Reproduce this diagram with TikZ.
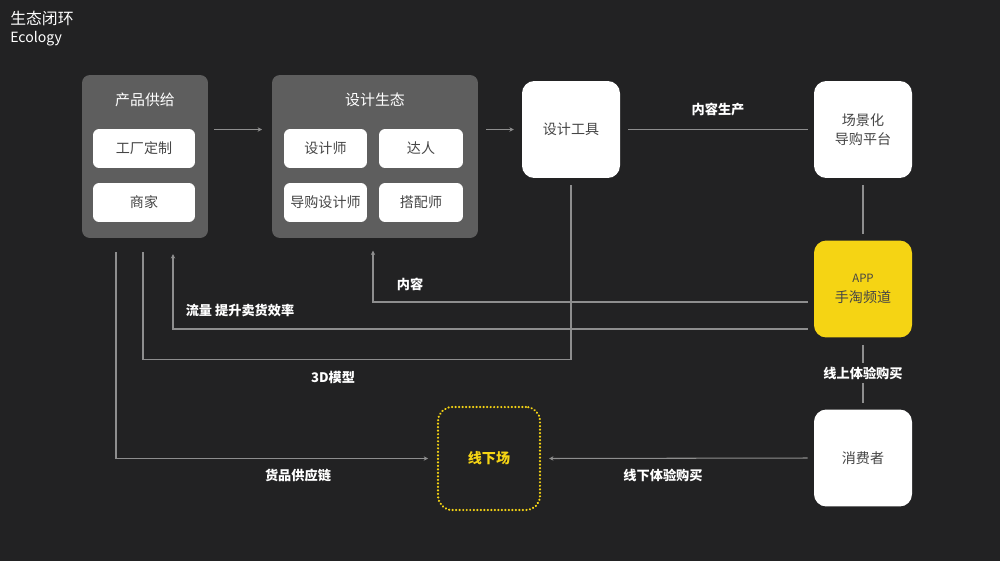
\documentclass[tikz,border=0pt]{standalone}
\usepackage{fontspec}
\setmainfont{Noto Sans CJK SC}
\usetikzlibrary{arrows.meta,calc}
\definecolor{bgc}{HTML}{222223}
\definecolor{grp}{HTML}{5E5E5E}
\definecolor{wire}{HTML}{8E8E8E}
\definecolor{ink}{HTML}{454545}
\definecolor{amber}{HTML}{F5D414}
\begin{document}
\begin{tikzpicture}[x=0.02cm, y=-0.02cm,
   group/.style={fill=grp, rounded corners=4.5pt, inner sep=0pt},
   card/.style={fill=white, rounded corners=3.5pt, text=ink, inner sep=0pt,
      minimum height=0.78cm, font=\fontsize{8}{9}\selectfont},
   big/.style={fill=white, rounded corners=7pt, text=ink, inner sep=0pt,
      minimum width=1.96cm, minimum height=1.94cm, align=center,
      font=\fontsize{8}{11}\selectfont},
   head/.style={text=white, font=\fontsize{8.5}{10}\selectfont},
   lbl/.style={text=white, font=\bfseries\fontsize{7.5}{9}\selectfont},
   wire/.style={draw=wire, line width=0.6pt},
   arw/.style={wire, -{Stealth[length=2.5pt,width=2.5pt]}}]

\useasboundingbox[fill=bgc] (0,0) rectangle (1000,561);

% title
\node[anchor=west, text=white, font=\fontsize{9}{10}\selectfont, inner sep=0pt] (title) at (10,18) {生态闭环};
\node[anchor=west, text=white, font=\fontsize{8}{10}\selectfont, inner sep=0pt] (subtitle) at (10,39) {Ecology};

% supply side
\node[group, minimum width=2.52cm, minimum height=3.26cm] (grpA) at (145,156.5) {};
\node[head] (grpAtitle) at (145,100) {产品供给};
\node[card, minimum width=2.04cm] (factory) at (144,148.5) {工厂定制};
\node[card, minimum width=2.04cm] (merchant) at (144,202.5) {商家};

% design ecology
\node[group, minimum width=4.12cm, minimum height=3.26cm] (grpB) at (375,156.5) {};
\node[head] (grpBtitle) at (375,100) {设计生态};
\node[card, minimum width=1.66cm] (designer) at (325.5,148.5) {设计师};
\node[card, minimum width=1.68cm] (talent) at (421,148.5) {达人};
\node[card, minimum width=1.66cm] (guide) at (325.5,202.5) {导购设计师};
\node[card, minimum width=1.68cm] (stylist) at (421,202.5) {搭配师};

\node[big] (tool) at (571,129.5) {设计工具};
\node[big] (scene) at (863,129.5) {场景化\\导购平台};
\node[big, fill=amber] (app) at (863,289) {{\fontsize{6.5}{8}\selectfont APP}\\手淘频道};
\node[big] (consumer) at (863,458) {消费者};
\node[draw=amber, line width=1.3pt, dash pattern=on 0.1pt off 1.9pt, line cap=round,
   rounded corners=8pt, minimum width=2.04cm, minimum height=2.06cm,
   text=amber, font=\bfseries\fontsize{8}{9}\selectfont] (offline) at (489,458.5) {线下场};

% connectors
\draw[arw, shorten <=3.5pt, shorten >=5.5pt] (grpA.east |- tool) -- (grpB.west |- tool);
\draw[arw, shorten <=4.5pt, shorten >=4.5pt] (grpB.east |- tool) -- (tool.west);
\draw[wire, shorten <=4.5pt, shorten >=3.5pt] (tool.east) -- (scene.west);
\node[lbl] (lblMake) at (718,109) {内容生产};
\draw[wire, shorten <=4pt, shorten >=3.5pt] (scene.south) -- (app.north);
\draw[wire, shorten <=4pt, shorten >=3.5pt] (app.south) -- (consumer.north);
\node[lbl, fill=bgc, inner sep=2pt] (lblOnline) at (863,373) {线上体验购买};
\draw[arw, shorten <=3.5pt, shorten >=4.5pt] (consumer.west) -- (offline.east);
\node[lbl] (lblOffline) at (663,475) {线下体验购买};

\draw[arw, shorten >=7pt] ($(app.west)+(-6,13)$) -| ($(grpB.south)+(-2,0)$);
\node[lbl] (lblContent) at (410,284) {内容};
\draw[arw, shorten >=9pt] ($(app.west)+(-6,40)$) -| ($(grpA.south)+(28,0)$);
\node[lbl] (lblFlow) at (240,310) {流量 提升卖货效率};
\draw[wire, shorten <=4pt, shorten >=8pt] (tool.south) |- ($(grpA.south)+(-2,121)$) -- ($(grpA.south)+(-2,0)$);
\node[lbl] (lbl3d) at (333,377) {3D模型};
\draw[arw, shorten >=5pt] ($(grpA.south)+(-29,14)$) |- (offline.west);
\node[lbl] (lblSupply) at (298,475) {货品供应链};

\end{tikzpicture}
\end{document}
